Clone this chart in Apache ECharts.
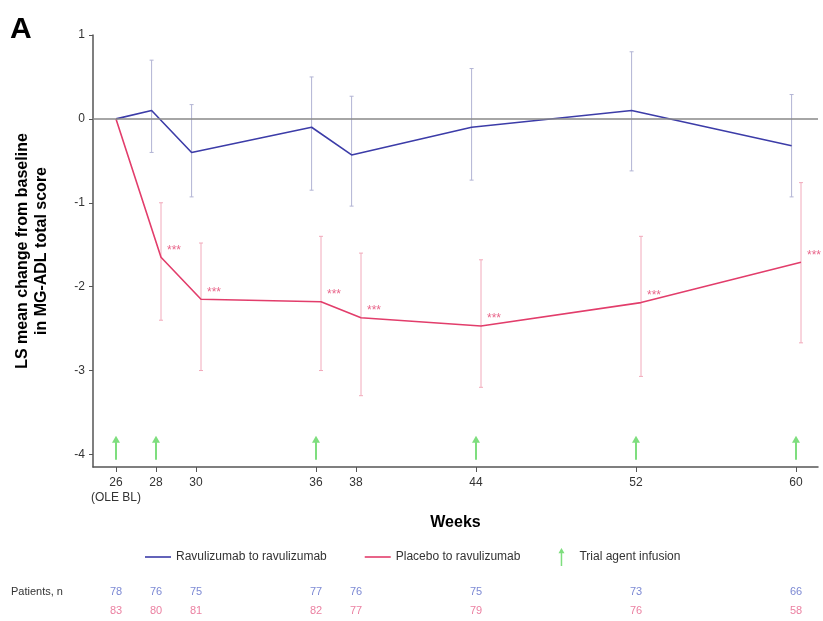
<!DOCTYPE html>
<html>
<head>
<meta charset="utf-8">
<script src="https://cdn.jsdelivr.net/npm/echarts@6/dist/echarts.min.js"></script>
<style>
  html, body { margin: 0; padding: 0; background: #fff; }
  #main { width: 823px; height: 621px; }
</style>
</head>
<body>
<div id="main"></div>
<script>
// weeks of visits
const weeks = [26, 28, 30, 36, 38, 44, 52, 60]
const weekLabels = ['26\n(OLE BL)', '28', '30', '36', '38', '44', '52', '60']
// Ravulizumab to ravulizumab
const ravMean = [0, 0.1, -0.4, -0.1, -0.43, -0.1, 0.1, -0.32]
const ravLow = [0, -0.4, -0.93, -0.85, -1.04, -0.73, -0.62, -0.93]
const ravHigh = [0, 0.7, 0.17, 0.5, 0.27, 0.6, 0.8, 0.29]
// Placebo to ravulizumab
const plaMean = [0, -1.65, -2.15, -2.18, -2.37, -2.47, -2.19, -1.71]
const plaLow = [0, -2.4, -3.0, -3.0, -3.3, -3.2, -3.07, -2.67]
const plaHigh = [0, -1.0, -1.48, -1.4, -1.6, -1.68, -1.4, -0.76]
const plaSig = ['', '***', '***', '***', '***', '***', '***', '***']
// trial agent infusion weeks
const infusionWeeks = [26, 28, 36, 44, 52, 60]
// patients, n
const ravN = [78, 76, 75, 77, 76, 75, 73, 66]
const plaN = [83, 80, 81, 82, 77, 79, 76, 58]

const BLUE = '#3c3ca8'
const PINK = '#e23d6b'
const GREEN = '#5ed65e'
const FONT = '"Liberation Sans", Arial, sans-serif'
// 两组之间的水平错位（周）
const ravShift = -0.22
const plaShift = 0.25

const chart = echarts.init(document.getElementById('main'), null, { renderer: 'canvas' })

function errBars (low, high, shift) {
  return weeks.map((w, i) => [w + shift, low[i], high[i]]).filter(d => d[1] !== d[2])
}

function errRender (color) {
  return function (params, api) {
    const x = api.value(0)
    const p1 = api.coord([x, api.value(1)])
    const p2 = api.coord([x, api.value(2)])
    const cap = 2
    const style = { stroke: color, lineWidth: 1 }
    return {
      type: 'group',
      children: [
        { type: 'line', shape: { x1: p1[0], y1: p1[1], x2: p2[0], y2: p2[1] }, style: style },
        { type: 'line', shape: { x1: p1[0] - cap, y1: p1[1], x2: p1[0] + cap, y2: p1[1] }, style: style },
        { type: 'line', shape: { x1: p2[0] - cap, y1: p2[1], x2: p2[0] + cap, y2: p2[1] }, style: style }
      ]
    }
  }
}

const arrowPath = 'path://M4,0 L8,7 L5,7 L5,24 L3,24 L3,7 L0,7 Z'
const lineIcon = 'path://M0,0 L26,0 L26,1.6 L0,1.6 Z'

const option = {
  animation: false,
  textStyle: { fontFamily: FONT },
  graphic: [
    { type: 'text', left: 10, top: 15, style: { text: 'A', font: 'bold 30px ' + FONT, fill: '#000' } },
    { type: 'text', left: 11, top: 586, style: { text: 'Patients, n', font: '11px ' + FONT, fill: '#333' } }
  ],
  legend: {
    left: 140,
    top: 543,
    itemGap: 38,
    itemWidth: 26,
    itemHeight: 18,
    textStyle: { fontSize: 12, color: '#333', fontFamily: FONT },
    data: [
      { name: 'Ravulizumab to ravulizumab', icon: lineIcon },
      { name: 'Placebo to ravulizumab', icon: lineIcon },
      { name: 'Trial agent infusion', icon: arrowPath }
    ]
  },
  grid: [
    { left: 93, right: 5, top: 35, bottom: 154 },
    { left: 93, right: 5, top: 582, height: 40 }
  ],
  xAxis: [
    {
      type: 'value',
      min: 24.85,
      max: 61.1,
      name: 'Weeks',
      nameLocation: 'middle',
      nameGap: 48,
      nameTextStyle: { fontSize: 16, fontWeight: 'bold', color: '#000', fontFamily: FONT },
      splitLine: { show: false },
      axisLine: { onZero: false, lineStyle: { color: '#555', width: 1.5 } },
      axisTick: { customValues: weeks, length: 5, lineStyle: { color: '#555' } },
      axisLabel: {
        customValues: weeks,
        color: '#333',
        fontSize: 12,
        lineHeight: 15,
        formatter: v => weekLabels[weeks.indexOf(v)]
      }
    },
    { gridIndex: 1, type: 'value', min: 24.85, max: 61.1, show: false }
  ],
  yAxis: [
    {
      type: 'value',
      min: -4.15,
      max: 1,
      name: 'LS mean change from baseline\nin MG-ADL total score',
      nameLocation: 'middle',
      nameRotate: 90,
      nameGap: 42,
      nameTextStyle: { fontSize: 16, fontWeight: 'bold', color: '#000', lineHeight: 19, fontFamily: FONT },
      splitLine: { show: false },
      axisLine: { show: true, onZero: false, lineStyle: { color: '#555', width: 1.5 } },
      axisTick: { show: true, customValues: [-4, -3, -2, -1, 0, 1], length: 4, lineStyle: { color: '#555' } },
      axisLabel: { customValues: [-4, -3, -2, -1, 0, 1], color: '#333', fontSize: 12, margin: 8 }
    },
    { gridIndex: 1, type: 'category', data: ['rav', 'pla'], inverse: true, show: false }
  ],
  series: [
    {
      name: 'zero',
      type: 'line',
      data: [],
      markLine: {
        silent: true,
        symbol: 'none',
        label: { show: false },
        lineStyle: { color: '#888', type: 'solid', width: 1.5 },
        data: [{ yAxis: 0 }]
      }
    },
    {
      name: 'ravErr',
      type: 'custom',
      renderItem: errRender('#b2b4d4'),
      data: errBars(ravLow, ravHigh, ravShift),
      z: 2
    },
    {
      name: 'plaErr',
      type: 'custom',
      renderItem: errRender('#f2aabb'),
      data: errBars(plaLow, plaHigh, plaShift),
      z: 2
    },
    {
      name: 'Ravulizumab to ravulizumab',
      type: 'line',
      symbol: 'none',
      color: BLUE,
      lineStyle: { width: 1.6, color: BLUE },
      data: weeks.map((w, i) => [w + (i ? ravShift : 0), ravMean[i]]),
      z: 3
    },
    {
      name: 'Placebo to ravulizumab',
      type: 'line',
      symbol: 'none',
      color: PINK,
      lineStyle: { width: 1.6, color: PINK },
      data: weeks.map((w, i) => [w + (i ? plaShift : 0), plaMean[i]]),
      z: 3
    },
    {
      name: 'stars',
      type: 'scatter',
      symbolSize: 0,
      data: weeks.map((w, i) => ({ value: [w + plaShift, plaMean[i]], sig: plaSig[i] })).filter(d => d.sig),
      label: {
        show: true,
        position: 'right',
        offset: [1, -7],
        color: PINK,
        fontSize: 12,
        formatter: p => p.data.sig
      },
      z: 4
    },
    {
      name: 'Trial agent infusion',
      type: 'scatter',
      symbol: arrowPath,
      symbolSize: [8, 24],
      color: GREEN,
      itemStyle: { color: GREEN },
      data: infusionWeeks.map(w => [w, -3.92]),
      z: 4
    },
    {
      name: 'ravN',
      type: 'scatter',
      xAxisIndex: 1,
      yAxisIndex: 1,
      symbolSize: 0,
      data: weeks.map((w, i) => [w, 'rav', ravN[i]]),
      label: { show: true, position: 'inside', color: '#5a6ac8', fontSize: 11, formatter: p => p.data[2] }
    },
    {
      name: 'plaN',
      type: 'scatter',
      xAxisIndex: 1,
      yAxisIndex: 1,
      symbolSize: 0,
      data: weeks.map((w, i) => [w, 'pla', plaN[i]]),
      label: { show: true, position: 'inside', color: '#e6608a', fontSize: 11, formatter: p => p.data[2] }
    }
  ]
}

chart.setOption(option)
</script>
</body>
</html>
